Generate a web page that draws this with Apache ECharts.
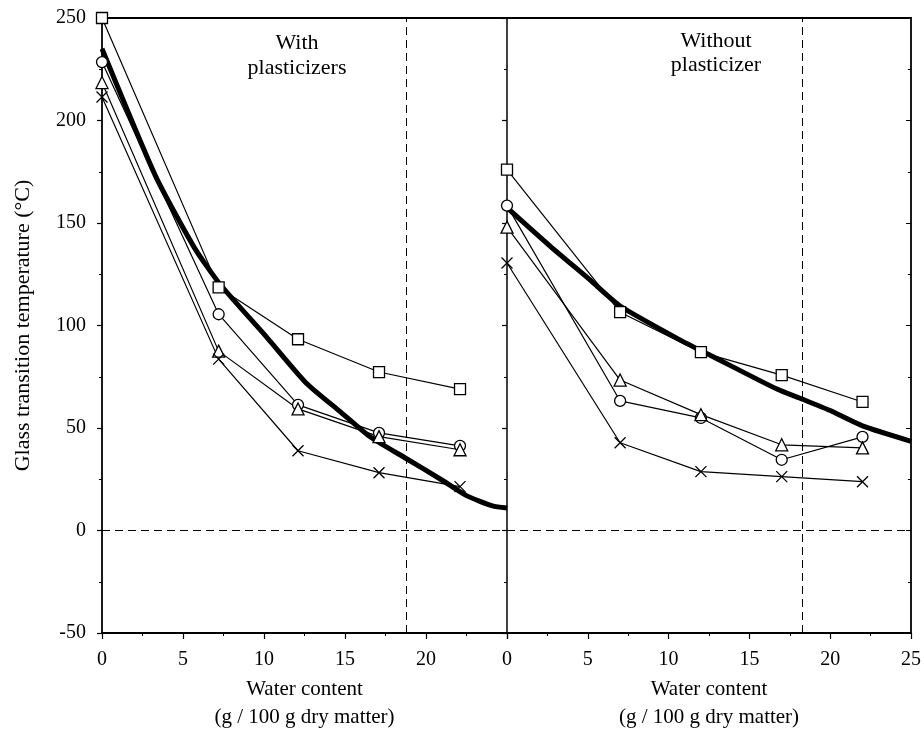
<!DOCTYPE html>
<html>
<head>
<meta charset="utf-8">
<script src="https://cdn.jsdelivr.net/npm/echarts@6/dist/echarts.min.js"></script>
<style>
html,body{margin:0;padding:0;background:#fff;}
#chart{width:924px;height:736px;}
</style>
</head>
<body>
<div id="chart"></div>
<script>
// ---- data ----
const xLeft = [0, 7.2, 12.1, 17.1, 22.1];
const xRight = [0, 7, 12, 17, 22];
const leftSquare = [250, 118.6, 93.3, 77.3, 69];
const leftCircle = [228.5, 105.5, 61.3, 47.6, 41.3];
const leftTriangle = [218.5, 87.5, 59.3, 45.8, 39.4];
const leftCross = [211.5, 83.6, 38.9, 28.2, 21.4];
const rightSquare = [176, 106.5, 87, 75.8, 62.7];
const rightCircle = [158.5, 63.2, 54.9, 34.5, 45.7];
const rightTriangle = [148, 73.4, 56.5, 41.8, 40.3];
const rightCross = [130.5, 42.8, 28.7, 26.3, 23.8];
const leftCurveX = [0, 3.3, 5.7, 7.3, 10.2, 12.6, 14.7, 16.5, 18.8, 20.9, 22.5, 24.1, 25];
const leftCurveY = [235, 173, 138, 120, 94, 72, 58, 46, 35, 25, 17, 12, 11];
const rightCurveX = [0, 2.7, 5.1, 7, 10.7, 12.7, 16.7, 18.3, 20, 22, 25];
const rightCurveY = [157.5, 138.5, 122.5, 109.5, 93, 85, 69, 64, 58.5, 51, 43.5];
const xTicks = [0, 5, 10, 15, 20, 25];
const yTicks = [-50, 0, 50, 100, 150, 200, 250];
const leftLimitX = 18.8;
const rightLimitX = 18.3;
const panelTitles = ['With\nplasticizers', 'Without\nplasticizer'];
const xName = 'Water content\n(g / 100 g dry matter)';
const yName = 'Glass transition temperature (°C)';

// ---- chart ----
const FONT = 'Liberation Serif';
const zip = (xs, ys) => xs.map((x, i) => [x, ys[i]]);
const crossPath = 'path://M0,0L10,10M10,0L0,10';

function thin(name, xs, ys, symbol, size, gi) {
  return {
    name: name, type: 'line', xAxisIndex: gi, yAxisIndex: gi,
    data: zip(xs, ys), symbol: symbol, symbolSize: size, showSymbol: true,
    lineStyle: {color: '#000', width: 1.2},
    itemStyle: {color: '#fff', borderColor: '#000', borderWidth: 1.3},
    z: 4, animation: false, silent: true
  };
}
function thick(xs, ys, gi, limitX) {
  return {
    type: 'line', xAxisIndex: gi, yAxisIndex: gi, data: zip(xs, ys),
    symbol: 'none', smooth: 0.2, lineStyle: {color: '#000', width: 5},
    z: 3, animation: false, silent: true,
    markLine: {
      silent: true, symbol: 'none', label: {show: false},
      lineStyle: {color: '#000', width: 1, type: [8, 5]},
      data: [{xAxis: limitX}, {yAxis: 0}]
    }
  };
}

const axisLineStyle = {color: '#000', width: 1.8};
function bottomX(gi, hideLast) {
  return {
    type: 'value', gridIndex: gi, position: 'bottom', min: 0, max: 25, interval: 5,
    axisLine: {show: true, onZero: false, lineStyle: axisLineStyle},
    axisTick: {show: true, length: 6, lineStyle: {color: '#000', width: 1.2}},
    minorTick: {show: true, splitNumber: 2, length: 3, lineStyle: {color: '#000'}},
    splitLine: {show: false},
    axisLabel: {
      color: '#000', fontFamily: FONT, fontSize: 20, margin: 17,
      formatter: v => (hideLast && v === 25) ? '' : (xTicks.includes(v) ? String(v) : '')
    },
    name: xName, nameLocation: 'middle', nameGap: 42,
    nameTextStyle: {color: '#000', fontFamily: FONT, fontSize: 21, lineHeight: 28}
  };
}
function topX(gi) {
  return {
    type: 'value', gridIndex: gi, position: 'top', min: 0, max: 25, interval: 5,
    axisLine: {show: true, onZero: false, lineStyle: axisLineStyle},
    axisTick: {show: false}, axisLabel: {show: false}, splitLine: {show: false}
  };
}
function yAx(gi, opts) {
  return Object.assign({
    type: 'value', gridIndex: gi, min: -50, max: 250, interval: 50,
    axisLine: {show: true, onZero: false, lineStyle: axisLineStyle},
    axisTick: {show: true, length: 5, lineStyle: {color: '#000', width: 1.2}},
    minorTick: {show: true, splitNumber: 2, length: 3, lineStyle: {color: '#000'}},
    splitLine: {show: false},
    axisLabel: {show: false}
  }, opts);
}

const option = {
  backgroundColor: '#fff',
  animation: false,
  grid: [
    {left: 102, top: 18, width: 405, height: 617},
    {left: 507, top: 18, width: 404, height: 617}
  ],
  xAxis: [bottomX(0, true), bottomX(1, false), topX(0), topX(1)],
  yAxis: [
    yAx(0, {
      position: 'left',
      axisLabel: {show: true, color: '#000', fontFamily: FONT, fontSize: 20, margin: 16,
        formatter: v => yTicks.includes(v) ? String(v) : ''},
      name: yName, nameLocation: 'middle', nameGap: 68, nameRotate: 90,
      nameTextStyle: {color: '#000', fontFamily: FONT, fontSize: 22}
    }),
    yAx(1, {position: 'left', axisLine: {show: true, onZero: false, lineStyle: {color: '#000', width: 1.5}}}),
    yAx(1, {position: 'right', axisTick: {show: true, inside: true, length: 5, lineStyle: {color: '#000'}}})
  ],
  graphic: [
    {type: 'text', x: 297, y: 31, silent: true,
      style: {text: panelTitles[0], font: '22px "Liberation Serif"', fill: '#000', align: 'center', verticalAlign: 'top', lineHeight: 25}},
    {type: 'text', x: 716, y: 29, silent: true,
      style: {text: panelTitles[1], font: '22px "Liberation Serif"', fill: '#000', align: 'center', verticalAlign: 'top', lineHeight: 24}}
  ],
  series: [
    thick(leftCurveX, leftCurveY, 0, leftLimitX),
    thin('square', xLeft, leftSquare, 'rect', 11, 0),
    thin('circle', xLeft, leftCircle, 'circle', 11, 0),
    thin('triangle', xLeft, leftTriangle, 'triangle', 12, 0),
    thin('cross', xLeft, leftCross, crossPath, 11, 0),
    thick(rightCurveX, rightCurveY, 1, rightLimitX),
    thin('square', xRight, rightSquare, 'rect', 11, 1),
    thin('circle', xRight, rightCircle, 'circle', 11, 1),
    thin('triangle', xRight, rightTriangle, 'triangle', 12, 1),
    thin('cross', xRight, rightCross, crossPath, 11, 1)
  ]
};
const chart = echarts.init(document.getElementById('chart'), null, {renderer: 'canvas'});
chart.setOption(option);
</script>
</body>
</html>
